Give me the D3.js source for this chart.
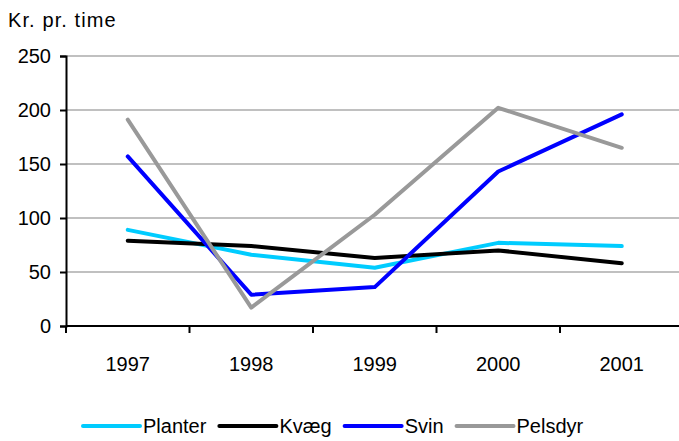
<!DOCTYPE html>
<html>
<head>
<meta charset="utf-8">
<script src="https://cdn.jsdelivr.net/npm/d3@7"></script>
<style>
  body { margin: 0; background: #fff; }
  text { font-family: Arial, "Liberation Sans", sans-serif; }
</style>
</head>
<body>
<div id="chart"></div>
<script>
// data
var years   = ["1997", "1998", "1999", "2000", "2001"];
var planter = [89, 66, 54, 77, 74];
var kvaeg   = [79, 74, 63, 70, 58];
var svin    = [157, 29, 36, 143, 196];
var pelsdyr = [191, 17, 103, 202, 165];
var yTicks  = [0, 50, 100, 150, 200, 250];

var seriesNames  = ["Planter", "Kvæg", "Svin", "Pelsdyr"];
var seriesValues = [planter, kvaeg, svin, pelsdyr];
var seriesColors = ["#00ccff", "#000000", "#0000ff", "#999999"];

var W = 679, H = 441;
var fontSize = 20;

var svg = d3.select("#chart").append("svg")
    .attr("width", W)
    .attr("height", H);

// scales
var x = d3.scaleBand()
    .domain(years)
    .range([66, 683.5])
    .padding(0);

var y = d3.scaleLinear()
    .domain([0, 250])
    .range([326, 56]);

// grid lines
svg.append("g")
    .selectAll("line")
    .data(yTicks.filter(function(d) { return d > 0; }))
    .enter().append("line")
    .attr("x1", x.range()[0])
    .attr("x2", x.range()[1])
    .attr("y1", function(d) { return y(d); })
    .attr("y2", function(d) { return y(d); })
    .attr("stroke", "#c0c0c0")
    .attr("stroke-width", 2);

// y axis
var yAxis = svg.append("g")
    .attr("transform", "translate(66,0)")
    .call(d3.axisLeft(y).tickValues(yTicks).tickSize(6).tickPadding(9));
yAxis.select(".domain").attr("stroke", "#000").attr("stroke-width", 2);
yAxis.selectAll(".tick line").attr("stroke", "#000").attr("stroke-width", 2);
yAxis.selectAll(".tick text")
    .attr("fill", "#000")
    .style("font-size", fontSize + "px")
    .style("font-family", "Arial, 'Liberation Sans', sans-serif");

// x axis (ticks at band boundaries)
var xAxis = svg.append("g")
    .attr("transform", "translate(0," + y(0) + ")");
xAxis.append("line")
    .attr("x1", x.range()[0])
    .attr("x2", x.range()[1])
    .attr("stroke", "#000")
    .attr("stroke-width", 2);
xAxis.selectAll(".xtick")
    .data(years)
    .enter().append("line")
    .attr("class", "xtick")
    .attr("x1", function(d) { return x(d); })
    .attr("x2", function(d) { return x(d); })
    .attr("y1", 0)
    .attr("y2", 7)
    .attr("stroke", "#000")
    .attr("stroke-width", 2);
xAxis.selectAll(".xlabel")
    .data(years)
    .enter().append("text")
    .attr("class", "xlabel")
    .attr("x", function(d) { return x(d) + x.bandwidth() / 2; })
    .attr("y", 45)
    .attr("text-anchor", "middle")
    .style("font-size", fontSize + "px")
    .text(function(d) { return d; });

// unit label
svg.append("text")
    .attr("x", 8)
    .attr("y", 27)
    .style("font-size", fontSize + "px")
    .style("letter-spacing", "1.1px")
    .text("Kr. pr. time");

// lines
var line = d3.line()
    .x(function(d, i) { return x(years[i]) + x.bandwidth() / 2; })
    .y(function(d) { return y(d); });

svg.append("g")
    .selectAll("path")
    .data(seriesValues)
    .enter().append("path")
    .attr("d", line)
    .attr("fill", "none")
    .attr("stroke", function(d, i) { return seriesColors[i]; })
    .attr("stroke-width", 4)
    .attr("stroke-linejoin", "round")
    .attr("stroke-linecap", "round");

// legend
var legend = svg.append("g").attr("transform", "translate(83,426)");
var lx = 0;
seriesNames.forEach(function(name, i) {
    var g = legend.append("g").attr("transform", "translate(" + lx + ",0)");
    g.append("line")
        .attr("x1", 0).attr("x2", 57)
        .attr("stroke", seriesColors[i])
        .attr("stroke-width", 4)
        .attr("stroke-linecap", "round");
    var t = g.append("text")
        .attr("x", 60)
        .attr("y", 0)
        .attr("dy", "0.36em")
        .style("font-size", fontSize + "px")
        .text(name);
    lx += 60 + t.node().getComputedTextLength() + 13;
});
</script>
</body>
</html>
